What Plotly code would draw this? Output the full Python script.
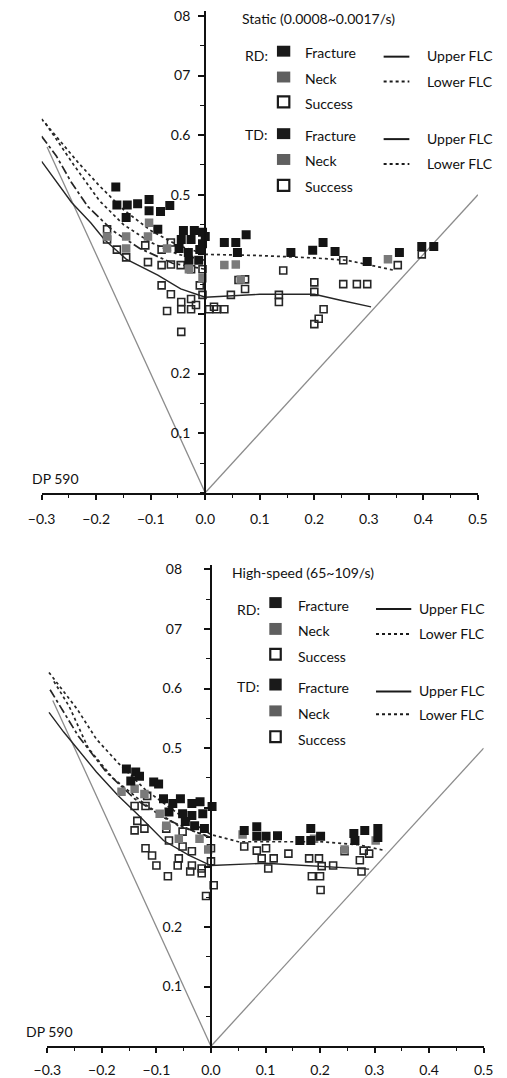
import plotly.graph_objects as go

W, H = 507, 1078

# ---------------- tick labels ----------------
x_tickvals = [-0.3, -0.2, -0.1, 0.0, 0.1, 0.2, 0.3, 0.4, 0.5]
x_ticktext = ["\u22120.3", "\u22120.2", "\u22120.1", "0.0", "0.1", "0.2", "0.3", "0.4", "0.5"]
y_tickvals = [0.1, 0.2, 0.3, 0.4, 0.5, 0.6, 0.7, 0.8]
y_ticktext = ["0.1", "0.2", "", "", "0.5", "0.6", "07", "08"]

# ---------------- strain paths (gray reference lines) ----------------
uniaxial_x = [-0.29, 0.0]
uniaxial_y = [0.58, 0.0]
biaxial_x = [0.0, 0.5]
biaxial_y = [0.0, 0.5]

# ---------------- STATIC panel ----------------
st_frac_x = [-0.164, -0.162, -0.143, -0.124, -0.103, -0.103, -0.082, -0.065, -0.145, -0.087,
             -0.040, -0.020, -0.005, -0.044, -0.026, -0.010, -0.031, -0.005, -0.048, -0.030,
             -0.012, 0.000, 0.035, 0.056, 0.075, 0.059, 0.157, 0.197, 0.216, 0.238,
             0.297, 0.356, 0.397, 0.419]
st_frac_y = [0.513, 0.483, 0.483, 0.485, 0.492, 0.473, 0.472, 0.482, 0.462, 0.442,
             0.440, 0.440, 0.437, 0.425, 0.425, 0.408, 0.403, 0.418, 0.410, 0.390,
             0.390, 0.430, 0.420, 0.420, 0.433, 0.403, 0.403, 0.407, 0.420, 0.405,
             0.388, 0.403, 0.413, 0.413]
st_neck_x = [-0.103, -0.145, -0.145, -0.105, -0.070, -0.030, 0.035, 0.056, 0.335, 0.065, -0.180, -0.005]
st_neck_y = [0.453, 0.430, 0.410, 0.430, 0.410, 0.375, 0.382, 0.383, 0.392, 0.358, 0.430, 0.360]
st_succ_x = [-0.180, -0.180, -0.162, -0.145, -0.110, -0.080, -0.063, -0.105, -0.080, -0.063,
             -0.045, -0.026, -0.005, -0.080, -0.063, -0.044, -0.026, -0.010, -0.005, -0.070,
             -0.044, -0.026, 0.007, 0.021, 0.035, -0.044, -0.017, 0.047, 0.073, 0.073,
             0.143, 0.135, 0.135, 0.200, 0.200, 0.217, 0.208, 0.200, 0.253, 0.278,
             0.297, 0.253, 0.353, 0.397, 0.016, 0.061]
st_succ_y = [0.442, 0.425, 0.408, 0.395, 0.415, 0.408, 0.420, 0.387, 0.382, 0.383,
             0.382, 0.375, 0.375, 0.348, 0.333, 0.320, 0.325, 0.348, 0.332, 0.305,
             0.308, 0.308, 0.308, 0.308, 0.308, 0.270, 0.315, 0.332, 0.358, 0.342,
             0.373, 0.332, 0.320, 0.353, 0.337, 0.308, 0.292, 0.283, 0.350, 0.350,
             0.350, 0.390, 0.382, 0.400, 0.312, 0.357]

st_flc_a_x = [-0.300, -0.232, -0.194, -0.150, -0.100, -0.050, 0.000, 0.100, 0.200, 0.260, 0.323, 0.348]
st_flc_a_y = [0.627, 0.553, 0.515, 0.475, 0.440, 0.415, 0.400, 0.398, 0.394, 0.390, 0.378, 0.373]
st_flc_b_x = [-0.293, -0.241, -0.194, -0.150, -0.100, -0.050, 0.000]
st_flc_b_y = [0.620, 0.550, 0.490, 0.450, 0.420, 0.400, 0.390]
st_flc_c_x = [-0.300, -0.273, -0.245, -0.215, -0.170, -0.120, -0.060, 0.000]
st_flc_c_y = [0.598, 0.565, 0.520, 0.480, 0.440, 0.410, 0.385, 0.375]
st_flc_d_x = [-0.300, -0.245, -0.210, -0.185, -0.145, -0.087, -0.045, 0.000, 0.100, 0.200, 0.248, 0.304]
st_flc_d_y = [0.556, 0.487, 0.453, 0.425, 0.392, 0.365, 0.342, 0.328, 0.333, 0.333, 0.323, 0.312]

# ---------------- HIGH-SPEED panel ----------------
hs_frac_x = [-0.155, -0.138, -0.131, -0.147, -0.105, -0.096, -0.087, -0.070, -0.056, -0.035,
             -0.077, -0.052, -0.035, -0.047, -0.030, -0.012, 0.002, -0.015, -0.020,
             0.061, 0.084, 0.101, 0.122, 0.163, 0.183, 0.201, 0.183, 0.262, 0.264,
             0.282, 0.306, 0.084, 0.306]
hs_frac_y = [0.465, 0.460, 0.453, 0.445, 0.443, 0.440, 0.415, 0.407, 0.415, 0.407,
             0.393, 0.390, 0.387, 0.377, 0.370, 0.365, 0.402, 0.390, 0.410,
             0.362, 0.368, 0.352, 0.353, 0.345, 0.365, 0.352, 0.345, 0.357, 0.345,
             0.362, 0.365, 0.352, 0.350]
hs_neck_x = [-0.164, -0.140, -0.122, -0.094, -0.082, -0.059, -0.021, 0.058, 0.189, 0.302, 0.245, -0.005]
hs_neck_y = [0.427, 0.432, 0.423, 0.390, 0.370, 0.348, 0.348, 0.355, 0.348, 0.345, 0.330, 0.330]
hs_succ_x = [-0.140, -0.120, -0.135, -0.122, -0.082, -0.077, -0.052, -0.052, -0.035, -0.059,
             -0.035, -0.017, 0.000, 0.000, -0.140, -0.120, -0.108, -0.100, -0.079, -0.038,
             -0.017, -0.009, 0.005, -0.061, -0.117,
             0.061, 0.084, 0.101, 0.093, 0.115, 0.142, 0.105, 0.180, 0.198, 0.203,
             0.224, 0.245, 0.280, 0.290, 0.276, 0.185, 0.200, 0.201, 0.273]
hs_succ_y = [0.403, 0.403, 0.378, 0.365, 0.365, 0.345, 0.360, 0.335, 0.327, 0.315,
             0.303, 0.298, 0.310, 0.332, 0.362, 0.332, 0.320, 0.303, 0.285, 0.293,
             0.290, 0.252, 0.270, 0.303, 0.420,
             0.335, 0.328, 0.332, 0.315, 0.315, 0.323, 0.298, 0.315, 0.315, 0.302,
             0.303, 0.327, 0.328, 0.323, 0.293, 0.285, 0.285, 0.262, 0.312]

hs_flc_a_x = [-0.297, -0.245, -0.210, -0.170, -0.120, -0.060, 0.000, 0.050, 0.100, 0.200, 0.270, 0.320]
hs_flc_a_y = [0.627, 0.565, 0.515, 0.475, 0.430, 0.390, 0.355, 0.343, 0.343, 0.343, 0.338, 0.328]
hs_flc_b_x = [-0.288, -0.260, -0.225, -0.180, -0.120, -0.060, 0.000]
hs_flc_b_y = [0.612, 0.570, 0.500, 0.450, 0.405, 0.370, 0.350]
hs_flc_c_x = [-0.295, -0.243, -0.192, -0.140, -0.080, -0.030, 0.000]
hs_flc_c_y = [0.598, 0.520, 0.460, 0.415, 0.380, 0.360, 0.350]
hs_flc_d_x = [-0.297, -0.270, -0.210, -0.170, -0.130, -0.087, -0.040, 0.000, 0.100, 0.200, 0.290]
hs_flc_d_y = [0.560, 0.527, 0.460, 0.420, 0.385, 0.345, 0.320, 0.303, 0.307, 0.302, 0.297]

FONT = "Lato"
INK = "#111111"

fig = go.Figure()

panels = [
    dict(xa="x", ya="y",
         frac=(st_frac_x, st_frac_y), neck=(st_neck_x, st_neck_y), succ=(st_succ_x, st_succ_y),
         flc=[(st_flc_a_x, st_flc_a_y, "dot"), (st_flc_b_x, st_flc_b_y, "dot"),
              (st_flc_c_x, st_flc_c_y, "dashdot"), (st_flc_d_x, st_flc_d_y, "solid")]),
    dict(xa="x2", ya="y2",
         frac=(hs_frac_x, hs_frac_y), neck=(hs_neck_x, hs_neck_y), succ=(hs_succ_x, hs_succ_y),
         flc=[(hs_flc_a_x, hs_flc_a_y, "dot"), (hs_flc_b_x, hs_flc_b_y, "dot"),
              (hs_flc_c_x, hs_flc_c_y, "dashdot"), (hs_flc_d_x, hs_flc_d_y, "solid")]),
]

for p in panels:
    for gx, gy in [(uniaxial_x, uniaxial_y), (biaxial_x, biaxial_y)]:
        fig.add_trace(go.Scatter(x=gx, y=gy, mode="lines", xaxis=p["xa"], yaxis=p["ya"],
                                 line=dict(color="#8c8c8c", width=1.3), showlegend=False,
                                 hoverinfo="skip"))
    for fx, fy, dash in p["flc"]:
        fig.add_trace(go.Scatter(x=fx, y=fy, mode="lines", xaxis=p["xa"], yaxis=p["ya"],
                                 line=dict(color="#262626", width=1.7 if dash != "solid" else 1.4,
                                           dash=dash),
                                 showlegend=False, hoverinfo="skip"))
    fig.add_trace(go.Scatter(x=p["succ"][0], y=p["succ"][1], mode="markers",
                             xaxis=p["xa"], yaxis=p["ya"], showlegend=False,
                             marker=dict(symbol="square-open", size=7, color="#262626",
                                         line=dict(width=1.6, color="#262626"))))
    fig.add_trace(go.Scatter(x=p["neck"][0], y=p["neck"][1], mode="markers",
                             xaxis=p["xa"], yaxis=p["ya"], showlegend=False,
                             marker=dict(symbol="square", size=8.5, color="#7a7a7a",
                                         line=dict(width=0))))
    fig.add_trace(go.Scatter(x=p["frac"][0], y=p["frac"][1], mode="markers",
                             xaxis=p["xa"], yaxis=p["ya"], showlegend=False,
                             marker=dict(symbol="square", size=9, color="#141414",
                                         line=dict(width=0))))


def px(v):
    return v / W


def py(v):
    return 1 - v / H


# axes geometry (pixel based)
top = dict(x0=29, x1=487, y0=492, ytop=492 - 0.808 * 600)
bot = dict(x0=35, x1=493, y0=1049, ytop=1049 - 0.808 * 600)

axis_common = dict(showgrid=False, zeroline=False, showline=True, linecolor="#111",
                   linewidth=2.2, ticks="outside", tickcolor="#111", tickwidth=1.6,
                   tickfont=dict(family=FONT, size=14, color=INK))

xa_kw = dict(axis_common, range=[-0.3, 0.5], tickvals=x_tickvals, ticktext=x_ticktext,
             ticklen=5, minor=dict(dtick=0.05, tick0=0, ticks="outside", ticklen=3,
                                   tickwidth=1.4, tickcolor="#111"))
ya_kw = dict(axis_common, range=[0, 0.808], tickvals=y_tickvals, ticktext=y_ticktext,
             ticklen=6, minor=dict(dtick=0.05, tick0=0, ticks="outside", ticklen=4,
                                   tickwidth=1.4, tickcolor="#111"))

fig.update_layout(
    xaxis=dict(xa_kw, domain=[px(top["x0"]), px(top["x1"])], anchor="y", ticklabelstandoff=7),
    yaxis=dict(ya_kw, domain=[py(top["y0"]), py(top["ytop"])], anchor="free",
               position=px(top["x0"] + 0.3 * (top["x1"] - top["x0"]) / 0.8), ticklabelstandoff=5),
    xaxis2=dict(xa_kw, domain=[px(bot["x0"]), px(bot["x1"])], anchor="y2", ticklabelstandoff=5),
    yaxis2=dict(ya_kw, domain=[py(bot["y0"]), py(bot["ytop"])], anchor="free",
                position=px(bot["x0"] + 0.3 * (bot["x1"] - bot["x0"]) / 0.8), ticklabelstandoff=19),
)

shapes = []
annotations = []


def text(x, y, s, size=14):
    annotations.append(dict(x=px(x), y=py(y), xref="paper", yref="paper", text=s,
                            showarrow=False, xanchor="left", yanchor="middle",
                            font=dict(family=FONT, size=size, color=INK)))


def sq(x0, x1, y0, y1, fill, line_w=0):
    shapes.append(dict(type="rect", xref="paper", yref="paper", x0=px(x0), x1=px(x1),
                       y0=py(y1), y1=py(y0), fillcolor=fill,
                       line=dict(color="#1a1a1a", width=line_w)))


def hline(x0, x1, y, dash):
    shapes.append(dict(type="line", xref="paper", yref="paper", x0=px(x0), x1=px(x1),
                       y0=py(y), y1=py(y), line=dict(color="#1a1a1a", width=2, dash=dash)))


# ---- titles / labels ----
text(237, 15, "Static (0.0008~0.0017/s)")
text(17, 478, "DP 590")
text(227, 572, "High-speed (65~109/s)")
text(10, 1034, "DP 590")

legend_top = dict(lab_x=240, sq_x=(276, 290), txt_x=303, line_x=(388, 415), ltxt_x=431,
                  groups=[("RD:", 52, [(42, 53, 49), (68, 79, 75), (92, 105, 100)], (53, 78)),
                          ("TD:", 131, [(125, 136, 132), (151, 162, 158), (176, 189, 184)], (136, 161))])
legend_bot = dict(lab_x=232, sq_x=(268, 281), txt_x=296, line_x=(380, 417), ltxt_x=423,
                  groups=[("RD:", 609, [(597, 608, 605), (623, 635, 631), (648, 661, 657)], (609, 634)),
                          ("TD:", 687, [(679, 691, 688), (706, 717, 714), (731, 744, 740)], (692, 715))])

legend_labels = ["Fracture", "Neck", "Success"]
legend_fills = ["#1a1a1a", "#5f5f5f", "#ffffff"]
for lg in (legend_top, legend_bot):
    for lab, ly, rows, lines in lg["groups"]:
        text(lg["lab_x"], ly, lab)
        for (y0, y1, ty), name, fill in zip(rows, legend_labels, legend_fills):
            if name == "Success":
                sq(lg["sq_x"][0] + 1, lg["sq_x"][1] - 1, y0 + 1, y1 - 1, fill, line_w=2.2)
            else:
                sq(lg["sq_x"][0], lg["sq_x"][1], y0, y1, fill)
            text(lg["txt_x"], ty, name)
        hline(lg["line_x"][0], lg["line_x"][1], lines[0], "solid")
        text(lg["ltxt_x"], lines[0] - 1, "Upper FLC")
        hline(lg["line_x"][0], lg["line_x"][1], lines[1], "3px,3px")
        text(lg["ltxt_x"], lines[1], "Lower FLC")

fig.update_layout(shapes=shapes, annotations=annotations, width=W, height=H, autosize=False,
                  margin=dict(l=0, r=0, t=0, b=0), paper_bgcolor="white", plot_bgcolor="white",
                  showlegend=False)

fig.write_html("out.html", post_script="document.body.style.margin='0';",
               config={"displayModeBar": False})
